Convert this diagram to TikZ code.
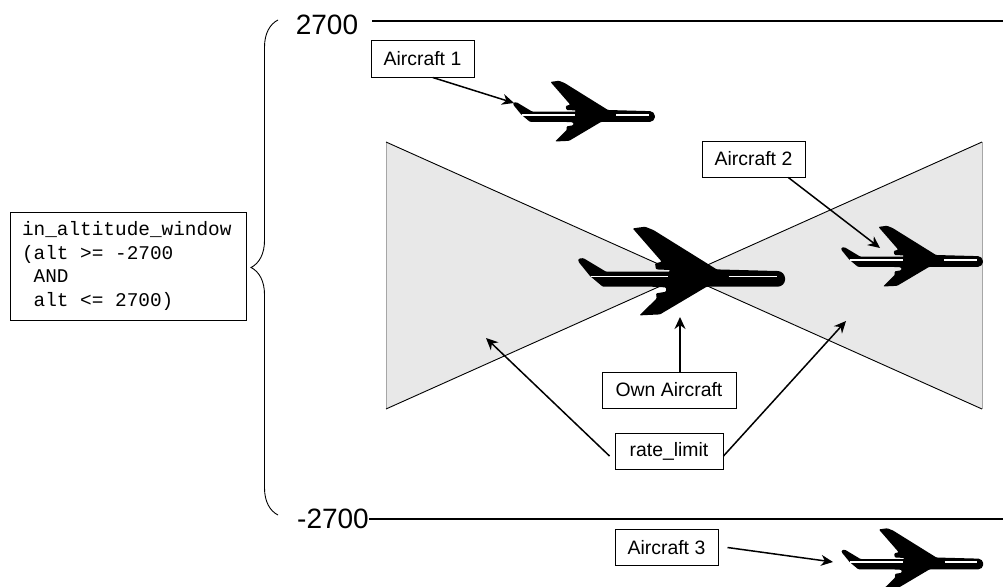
\documentclass[tikz,border=0pt]{standalone}
\usepackage{fontspec}
\setmainfont{Liberation Sans}
\setmonofont{Liberation Mono}
\usetikzlibrary{arrows.meta,positioning,decorations.pathreplacing}

\definecolor{windowgray}{gray}{0.91}

\tikzset{
  jet/.pic={
    \fill[black, rounded corners=1pt]
      (-103.3,-15) -- (-103.3,-18) -- (-98.3,-18.6) -- (-75.7,-5) -- (-11.7,-5)
      -- (-11.7,-6.7) -- (-25.7,-7.3) -- (-26.7,-13.3) -- (-20,-15) -- (-49,-48.3)
      -- (-36.7,-50) -- (-28.3,-46.7) -- (35,-7.3) -- (95,-5.7)
      .. controls (100,-5.7) and (103.3,-2) .. (103.3,2.3)
      .. controls (103.3,6.5) and (100,10) .. (95,10)
      -- (25,10) -- (-21.7,37.7) -- (-42.3,38.7) -- (-25,21.7) -- (-25.7,16.7)
      -- (-15.7,15) -- (-15.7,10.7) -- (-30,10) -- (-79,10) -- (-91.7,-0.7) -- cycle;
    \draw[white, line width=1.7pt] (-91,-0.3) -- (-13.5,-0.3);
    \draw[white, line width=1.7pt] (47,-0.3) -- (95,-0.3);
  }
}

\begin{document}
\begin{tikzpicture}[
  x=1pt, y=-1pt,
  >={Stealth[length=12pt,width=11pt]},
  every node/.style={font=\fontsize{19.4}{23.7}\selectfont},
  box/.style={draw, fill=white, line width=1pt, align=center, inner sep=0pt,
              minimum height=36pt},
  tagbox/.style={box, minimum width=103pt},
  level/.style={font=\fontsize{28}{32}\selectfont, inner sep=0pt},
  bound/.style={line width=1.5pt},
  pointer/.style={->, line width=1.5pt},
]
\useasboundingbox (0,0) rectangle (1003,586);

% bow tie
\coordinate (cross) at (684,275.5);
\fill[windowgray] (386,142) -- (cross) -- (386,409) -- cycle;
\fill[windowgray] (982,142) -- (cross) -- (982,409) -- cycle;
\draw[gray!70] (386,142) -- (386,409);
\draw[gray!70] (982,142) -- (982,409);
\draw[line width=0.9pt] (386,142) -- (982,409);
\draw[line width=0.9pt] (386,409) -- (982,142);

% planes
\pic at (681.7,276.7) {jet};
\pic[scale=0.685] at (584,115) {jet};
\pic[scale=0.685] at (912,260) {jet};
\pic[scale=0.685] at (912.4,562.5) {jet};

% altitude levels
\node[level] (top) at (327,25) {2700};
\node[level] (bot) at (333,519) {-2700};
\coordinate (topend) at (1003,21);
\coordinate (botend) at (1003,519);
\draw[bound] (top.east |- topend) ++(14,0) coordinate (topstart) -- (topend);
\draw[bound] (bot.east |- botend) -- (botend);

% labels
\node[box, minimum width=236pt, minimum height=108pt, align=left, text width=212pt,
      font=\ttfamily\fontsize{19.4}{23.7}\selectfont] (window) at (128,266)
  {\spaceskip=0pt in\_altitude\_window\\(alt >= -2700\\\ AND\\\ alt <= 2700)};
\node[tagbox] (ac1) at (422.5,59) {Aircraft 1};
\node[tagbox] (ac2) at (753.5,159) {Aircraft 2};
\node[tagbox] (ac3) at (666.5,547.5) {Aircraft 3};
\node[box, minimum width=134pt] (own) at (669,390) {Own Aircraft};
\node[box, minimum width=108pt, below=24pt of own] (rate) {rate\_limit};

% arrows
\coordinate (tip1) at (514,103);
\coordinate (tip2) at (880,248);
\coordinate (tip3) at (833,562);
\coordinate (tipown) at (680,317);
\coordinate (tipleft) at (486,338);
\coordinate (tipright) at (846,321);
\draw[pointer] (ac1.-61) -- (tip1);
\draw[pointer] (ac2.-28) -- (tip2);
\draw[pointer] ([xshift=9pt]ac3.east) -- (tip3);
\draw[pointer] (own.north -| tipown) -- (tipown);
\draw[pointer] ([xshift=-5pt,yshift=-5pt]rate.west) -- (tipleft);
\draw[pointer] ([yshift=-5pt]rate.east) -- (tipright);

% brace
\coordinate (bracelow) at (278,515);
\coordinate (bracehigh) at (278,20);
\draw[decorate, decoration={brace, amplitude=27pt}, line width=0.9pt]
  (bracelow) -- (bracehigh);
\end{tikzpicture}
\end{document}
